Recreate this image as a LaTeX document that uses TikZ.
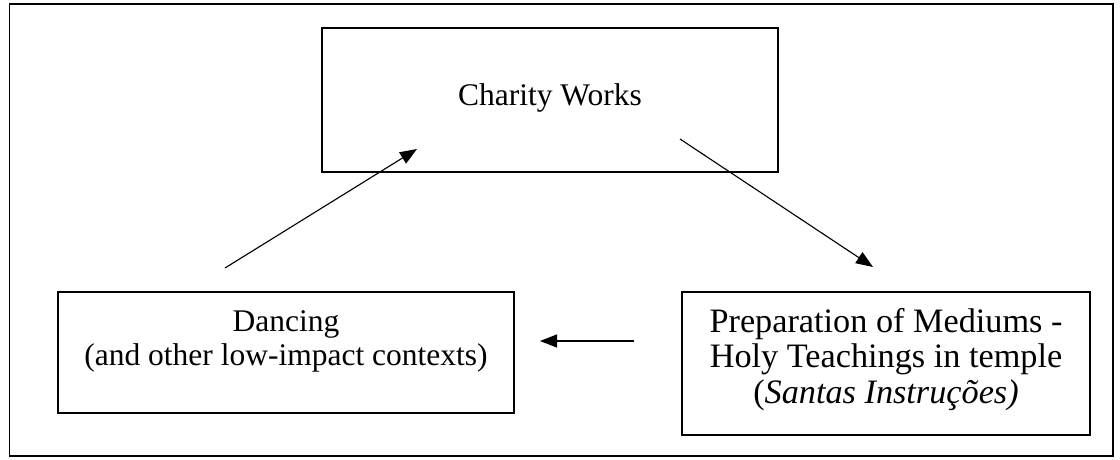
\documentclass[tikz,border=0pt]{standalone}
\usepackage{fontspec}
\setmainfont{Liberation Serif}
\usetikzlibrary{arrows.meta,positioning}

\begin{document}
\begin{tikzpicture}[x=0.4pt, y=-0.4pt,
box/.style={draw, line width=0.55pt, inner sep=0pt},
caption/.style={align=center, inner sep=0pt, font=\fontsize{12.6}{13.8}\selectfont},
arrow/.style={-{Triangle[length=6.8pt, width=5.2pt]}, line width=0.45pt}
]
\useasboundingbox (0,0) rectangle (1120,460);
\node[box, minimum width=441.4pt, minimum height=180.8pt] (frame) at (561.25,230) {};
\node[box, minimum width=182.4pt, minimum height=57.6pt] (charity) at (550,100) {};
\node[box, minimum width=182.4pt, minimum height=48.4pt] (dance) at (286,352.5) {};
\node[box, minimum width=163.2pt, minimum height=57.2pt] (prep) at (886,363.5) {};
\node[caption, below=22.2pt of charity.north] (charitytext) {Charity Works};
\node[caption, below=7.4pt of dance.north] (dancetext) {Dancing\\(and other low-impact contexts)};
\node[caption, font=\fontsize{13.7}{14.2}\selectfont, below=6.6pt of prep.north] (preptext)
  {Preparation of Mediums -\\Holy Teachings in temple\\(\textit{Santas Instruções)}};
\coordinate (upstart) at (225,268);
\coordinate (upend) at (417,149);
\coordinate (downstart) at (680,139);
\coordinate (downend) at (873,267);
\coordinate (backstart) at (634,341);
\coordinate (backend) at (540,341);
\draw[arrow] (upstart) -- (upend);
\draw[arrow] (downstart) -- (downend);
\draw[arrow] (backstart) -- (backend);
\end{tikzpicture}
\end{document}
